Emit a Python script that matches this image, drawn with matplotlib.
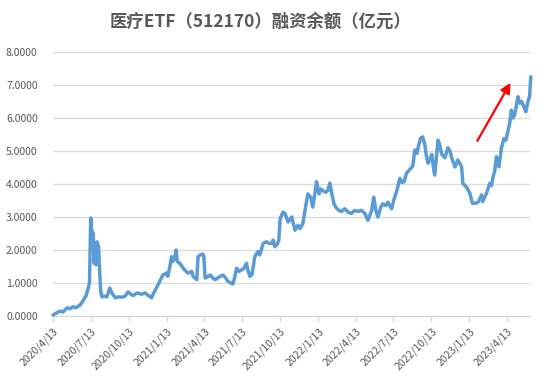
import numpy as np
import pandas as pd
import matplotlib
matplotlib.use("Agg")
import matplotlib.pyplot as plt
import matplotlib.dates as mdates

plt.rcParams['font.family'] = ['Noto Sans CJK SC', 'DejaVu Sans']

start_date = "2020-04-13"
end_date = "2023-06-08"

day_offsets = [0, 7, 17, 24, 34, 41, 48, 55, 65, 72, 80, 84, 88, 91, 93, 97, 99, 101, 104, 106,
               110, 112, 115, 118, 123, 130, 137, 142, 150, 157, 166, 174, 181, 186, 193, 203, 214,
               222, 229, 238, 241, 253, 265, 273, 277, 282, 286, 289, 293, 297, 300, 306, 314, 321,
               326, 335, 338, 343, 347, 350, 355, 362, 364, 367, 374, 379, 386, 391, 403, 410, 417,
               422, 429, 434, 439, 443, 449, 455, 461, 467, 470, 475, 480, 487, 494, 499, 507, 515,
               521, 528, 531, 535, 540, 545, 548, 555, 560, 567, 576, 584, 591, 596, 603, 608, 615,
               622, 627, 636, 642, 646, 651, 658, 663, 668, 673, 678, 684, 690, 696, 704, 712, 720,
               728, 736, 745, 753, 760, 769, 774, 779, 784, 791, 796, 803, 808, 817, 822, 829, 837,
               842, 847, 853, 861, 868, 873, 878, 883, 887, 892, 897, 901, 905, 909, 914, 918, 921,
               926, 929, 933, 938, 946, 953, 958, 962, 970, 977, 986, 989, 998, 1006, 1012, 1022,
               1027, 1034, 1037, 1046, 1054, 1058, 1062, 1066, 1070, 1076, 1082, 1088, 1093, 1097,
               1102, 1106, 1110, 1114, 1122, 1126, 1131, 1136, 1141, 1146, 1150, 1153]

balance = [0.03, 0.08, 0.15, 0.12, 0.25, 0.22, 0.28, 0.25, 0.33, 0.45, 0.62, 0.80, 1.0, 2.97, 2.6,
           2.5, 1.6, 2.0, 1.55, 2.25, 2.1, 1.5, 0.75, 0.58, 0.6, 0.58, 0.85, 0.7, 0.55, 0.58, 0.57,
           0.6, 0.73, 0.68, 0.62, 0.7, 0.66, 0.7, 0.63, 0.55, 0.65, 0.94, 1.24, 1.3, 1.2, 1.5, 1.8,
           1.65, 1.75, 2.0, 1.65, 1.6, 1.45, 1.35, 1.3, 1.35, 1.2, 1.15, 1.1, 1.8, 1.85, 1.88, 1.8,
           1.15, 1.2, 1.24, 1.15, 1.1, 1.2, 1.24, 1.15, 1.05, 1.0, 0.97, 1.2, 1.45, 1.35, 1.4, 1.45,
           1.6, 1.4, 1.2, 1.25, 1.8, 1.95, 1.85, 2.2, 2.25, 2.2, 2.2, 2.3, 2.1, 2.15, 2.3, 2.95,
           3.15, 3.1, 2.85, 3.0, 2.6, 2.75, 2.65, 2.8, 3.2, 3.7, 3.6, 3.3, 4.07, 3.7, 3.85, 3.8,
           3.75, 3.8, 4.03, 3.7, 3.4, 3.27, 3.2, 3.17, 3.25, 3.15, 3.11, 3.2, 3.17, 3.2, 3.1, 2.9,
           3.2, 3.6, 3.2, 3.0, 3.3, 3.4, 3.35, 3.45, 3.25, 3.5, 3.77, 4.17, 4.05, 4.07, 4.33, 4.44,
           4.54, 5.03, 4.93, 5.2, 5.39, 5.43, 5.2, 4.85, 4.63, 4.73, 4.9, 4.5, 4.27, 4.9, 5.33, 5.2,
           4.9, 4.8, 5.1, 5.0, 4.8, 4.52, 4.73, 4.52, 4.02, 3.9, 3.72, 3.42, 3.42, 3.47, 3.67, 3.47,
           3.72, 4.02, 3.95, 4.22, 4.4, 4.83, 4.52, 5.08, 5.38, 5.33, 5.55, 5.84, 6.24, 6.0, 6.1,
           6.65, 6.45, 6.5, 6.35, 6.19, 6.5, 6.65, 7.25]

tick_dates = ["2020-04-13", "2020-07-13", "2020-10-13", "2021-01-13", "2021-04-13", "2021-07-13",
              "2021-10-13", "2022-01-13", "2022-04-13", "2022-07-13", "2022-10-13", "2023-01-13",
              "2023-04-13"]
y_ticks = [0, 1, 2, 3, 4, 5, 6, 7, 8]

arrow_tail = ("2023-02-01", 5.31)
arrow_head = ("2023-04-22", 7.07)

title = "医疗ETF（512170）融资余额（亿元）"

dates = pd.Timestamp(start_date) + pd.to_timedelta(day_offsets, unit="D")

fig = plt.figure(figsize=(5.5, 3.8), dpi=100)
ax = fig.add_axes([0.0964, 0.1684, 0.8672, 0.6946])

ax.plot(dates, balance, color="#5B9BD5", linewidth=2.5, solid_joinstyle="round",
        solid_capstyle="round", zorder=3, clip_on=False)

ax.set_xlim(pd.Timestamp(start_date), pd.Timestamp(end_date))
ax.set_ylim(0, 8)
ax.set_yticks(y_ticks)
ax.set_yticklabels([f"{v:.4f}" for v in y_ticks])
tds = [pd.Timestamp(t) for t in tick_dates]
ax.set_xticks(tds)
ax.set_xticklabels([f"{t.year}/{t.month}/{t.day}" for t in tds], rotation=45, ha="right",
                   rotation_mode="anchor")

ax.grid(axis="y", color="#D9D9D9", linewidth=0.9)
ax.set_axisbelow(True)
for s in ["top", "right", "left"]:
    ax.spines[s].set_visible(False)
ax.spines["bottom"].set_color("#D9D9D9")
ax.spines["bottom"].set_linewidth(0.9)
ax.tick_params(axis="y", length=0, pad=11, labelsize=7.5, labelcolor="#595959")
ax.tick_params(axis="x", length=4, width=0.9, color="#D9D9D9", pad=3, labelsize=7.5,
               labelcolor="#595959")

ax.annotate("", xy=(pd.Timestamp(arrow_head[0]), arrow_head[1]),
            xytext=(pd.Timestamp(arrow_tail[0]), arrow_tail[1]),
            arrowprops=dict(arrowstyle="-|>,head_length=0.6,head_width=0.3", color="#FF0000",
                            lw=1.6, shrinkA=0, shrinkB=0), zorder=4)

fig.text(0.473, 0.942, title, ha="center", va="center", fontsize=12.5, fontweight="bold",
         color="#595959")

fig.savefig("out.png", dpi=100)
